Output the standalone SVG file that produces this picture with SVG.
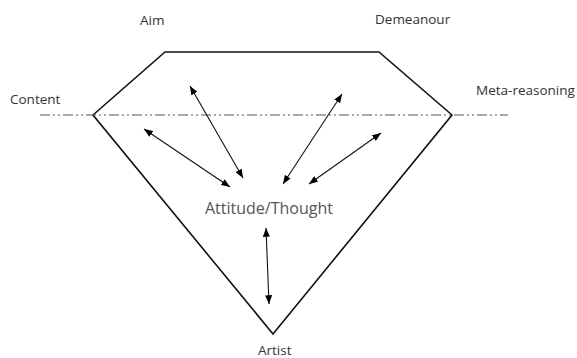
<svg xmlns="http://www.w3.org/2000/svg" width="577" height="358" viewBox="0 0 577 358">
<style>
text{font-family:"Open Sans","Noto Sans",sans-serif;fill:#333;font-size:13.5px}
.big{font-size:16px;fill:#555}
.conn line{stroke:#111;stroke-width:1.1;marker-start:url(#ah);marker-end:url(#ah)}
.shape{fill:none;stroke:#111;stroke-width:1.6;stroke-linejoin:miter}
.axis{stroke:#555;stroke-width:1.2;stroke-dasharray:10 3 2 3 2 3}
</style>
<defs>
<marker id="ah" viewBox="0 0 10 8" refX="10" refY="4" markerWidth="9" markerHeight="7" markerUnits="userSpaceOnUse" orient="auto-start-reverse">
<path d="M0,0 L10,4 L0,8 Z" fill="#000"/>
</marker>
</defs>
<rect width="577" height="358" fill="#fff"/>
<g id="gem">
<polygon class="shape" points="165,52 379,52 452,115 273,334 93,115"/>
<line class="axis" x1="40" y1="115" x2="508" y2="115"/>
</g>
<g id="aim"><text x="140" y="25">Aim</text></g>
<g id="demeanour"><text x="375" y="24">Demeanour</text></g>
<g id="content"><text x="10" y="104">Content</text></g>
<g id="meta"><text x="476" y="95">Meta-reasoning</text></g>
<g id="attitude"><text class="big" x="205" y="214">Attitude/Thought</text></g>
<g id="artist"><text x="258" y="355">Artist</text></g>
<g class="conn" id="connectors">
<line x1="190" y1="86" x2="243" y2="178"/>
<line x1="144" y1="129" x2="230" y2="187"/>
<line x1="342" y1="94" x2="283" y2="184"/>
<line x1="381" y1="133" x2="309" y2="184"/>
<line x1="266" y1="228" x2="269" y2="304"/>
</g>
</svg>
